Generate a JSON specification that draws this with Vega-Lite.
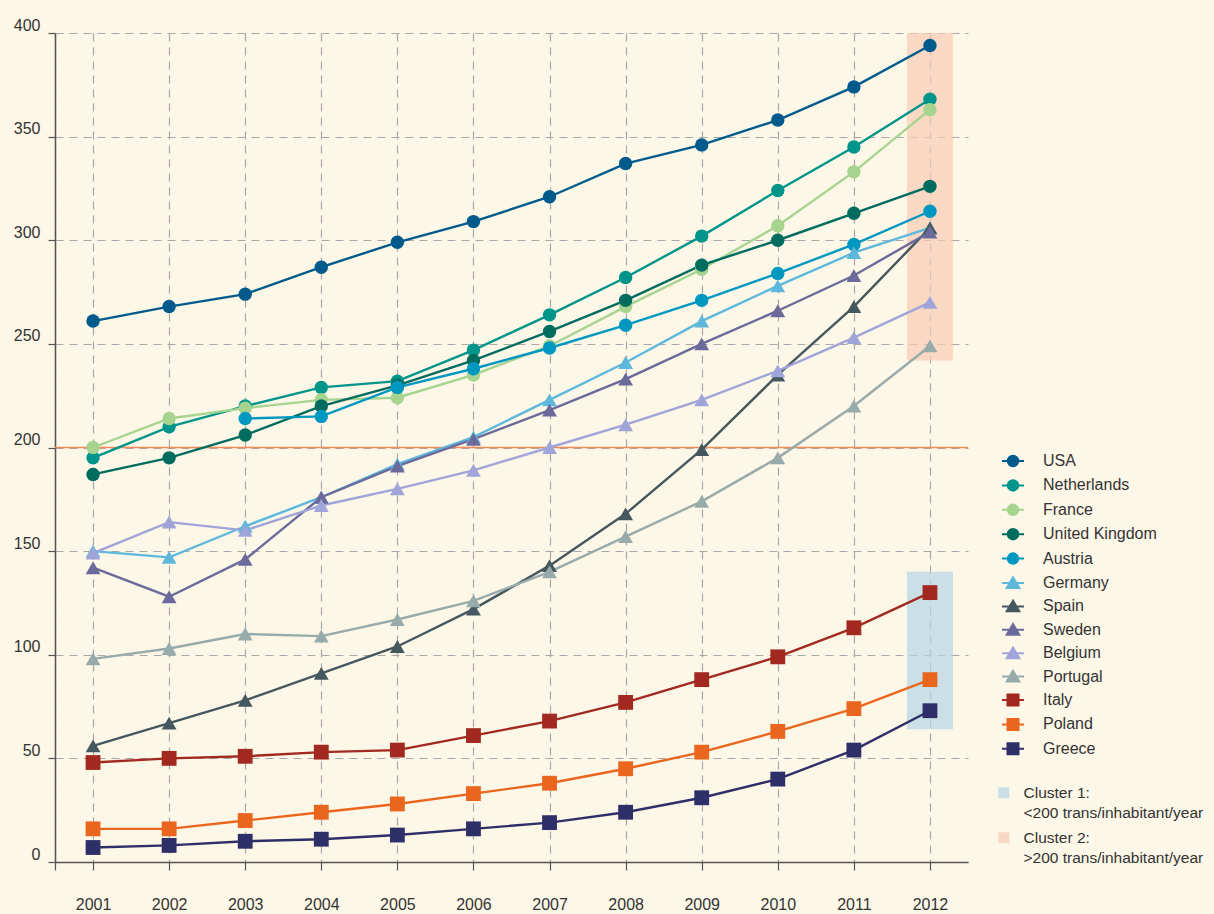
{
  "$schema": "https://vega.github.io/schema/vega-lite/v6.json",
  "width": 913,
  "height": 829,
  "autosize": "none",
  "padding": {"left": 55, "top": 33, "right": 246, "bottom": 52},
  "background": "#fdf7e7",
  "config": {
    "view": {"stroke": null},
    "font": "Liberation Sans",
    "axis": {
      "domainColor": "#555555",
      "domainWidth": 1.5,
      "tickColor": "#555555",
      "tickWidth": 1.2,
      "labelColor": "#333333",
      "labelFontSize": 16,
      "labelFont": "Liberation Sans",
      "gridColor": "#a8a8a8",
      "gridDash": [8, 6],
      "gridWidth": 1.2,
      "title": null
    },
    "legend": {"labelFont": "Liberation Sans"}
  },
  "datasets": {
    "trans": [
      {"year": 2001, "USA": 261, "Netherlands": 195, "France": 200, "United Kingdom": 187, "Austria": null, "Germany": 150, "Spain": 56, "Sweden": 142, "Belgium": 149, "Portugal": 98, "Italy": 48, "Poland": 16, "Greece": 7},
      {"year": 2002, "USA": 268, "Netherlands": 210, "France": 214, "United Kingdom": 195, "Austria": null, "Germany": 147, "Spain": 67, "Sweden": 128, "Belgium": 164, "Portugal": 103, "Italy": 50, "Poland": 16, "Greece": 8},
      {"year": 2003, "USA": 274, "Netherlands": 220, "France": 219, "United Kingdom": 206, "Austria": 214, "Germany": 162, "Spain": 78, "Sweden": 146, "Belgium": 160, "Portugal": 110, "Italy": 51, "Poland": 20, "Greece": 10},
      {"year": 2004, "USA": 287, "Netherlands": 229, "France": 223, "United Kingdom": 220, "Austria": 215, "Germany": 176, "Spain": 91, "Sweden": 176, "Belgium": 172, "Portugal": 109, "Italy": 53, "Poland": 24, "Greece": 11},
      {"year": 2005, "USA": 299, "Netherlands": 232, "France": 224, "United Kingdom": 230, "Austria": 229, "Germany": 192, "Spain": 104, "Sweden": 191, "Belgium": 180, "Portugal": 117, "Italy": 54, "Poland": 28, "Greece": 13},
      {"year": 2006, "USA": 309, "Netherlands": 247, "France": 235, "United Kingdom": 242, "Austria": 238, "Germany": 205, "Spain": 122, "Sweden": 204, "Belgium": 189, "Portugal": 126, "Italy": 61, "Poland": 33, "Greece": 16},
      {"year": 2007, "USA": 321, "Netherlands": 264, "France": 249, "United Kingdom": 256, "Austria": 248, "Germany": 223, "Spain": 143, "Sweden": 218, "Belgium": 200, "Portugal": 140, "Italy": 68, "Poland": 38, "Greece": 19},
      {"year": 2008, "USA": 337, "Netherlands": 282, "France": 268, "United Kingdom": 271, "Austria": 259, "Germany": 241, "Spain": 168, "Sweden": 233, "Belgium": 211, "Portugal": 157, "Italy": 77, "Poland": 45, "Greece": 24},
      {"year": 2009, "USA": 346, "Netherlands": 302, "France": 286, "United Kingdom": 288, "Austria": 271, "Germany": 261, "Spain": 199, "Sweden": 250, "Belgium": 223, "Portugal": 174, "Italy": 88, "Poland": 53, "Greece": 31},
      {"year": 2010, "USA": 358, "Netherlands": 324, "France": 307, "United Kingdom": 300, "Austria": 284, "Germany": 278, "Spain": 235, "Sweden": 266, "Belgium": 237, "Portugal": 195, "Italy": 99, "Poland": 63, "Greece": 40},
      {"year": 2011, "USA": 374, "Netherlands": 345, "France": 333, "United Kingdom": 313, "Austria": 298, "Germany": 294, "Spain": 268, "Sweden": 283, "Belgium": 253, "Portugal": 220, "Italy": 113, "Poland": 74, "Greece": 54},
      {"year": 2012, "USA": 394, "Netherlands": 368, "France": 363, "United Kingdom": 326, "Austria": 314, "Germany": 306, "Spain": 306, "Sweden": 304, "Belgium": 270, "Portugal": 249, "Italy": 130, "Poland": 88, "Greece": 73}
    ],
    "clusters": [
      {"cluster": "Cluster 1:", "description": "<200 trans/inhabitant/year", "year": 2012, "low": 64, "high": 140},
      {"cluster": "Cluster 2:", "description": ">200 trans/inhabitant/year", "year": 2012, "low": 242, "high": 400}
    ],
    "threshold": [{"limit": 200}]
  },
  "layer": [
    {
      "data": {"name": "clusters"},
      "mark": {"type": "bar", "width": 46, "orient": "vertical", "opacity": 0.7, "strokeWidth": 0},
      "encoding": {
        "x": {"field": "year", "type": "quantitative"},
        "y": {"field": "low", "type": "quantitative"},
        "y2": {"field": "high"},
        "fill": {
          "field": "cluster",
          "type": "nominal",
          "scale": {"domain": ["Cluster 1:", "Cluster 2:"], "range": ["#b3d5e6", "#f7ccb4"]},
          "legend": {
            "orient": "none",
            "legendX": 941,
            "legendY": 752,
            "title": null,
            "symbolType": "square",
            "symbolSize": 121,
            "symbolStrokeWidth": 0,
            "labelFontSize": 15.5,
            "labelColor": "#333333",
            "labelLimit": 400,
            "labelOffset": 12,
            "labelBaseline": "middle",
            "rowPadding": 28
          }
        },
        "stroke": {
          "field": "description",
          "type": "nominal",
          "scale": {"domain": ["<200 trans/inhabitant/year", ">200 trans/inhabitant/year"], "range": ["#fdf7e7", "#fdf7e7"]},
          "legend": {
            "orient": "none",
            "legendX": 941,
            "legendY": 772,
            "title": null,
            "symbolType": "square",
            "symbolSize": 121,
            "symbolOpacity": 0,
            "symbolStrokeWidth": 0,
            "labelFontSize": 15.5,
            "labelColor": "#333333",
            "labelLimit": 400,
            "labelOffset": 12,
            "labelBaseline": "middle",
            "rowPadding": 28
          }
        }
      }
    },
    {
      "data": {"name": "threshold"},
      "mark": {"type": "rule", "color": "#f08c58", "strokeWidth": 1.3},
      "encoding": {"y": {"field": "limit", "type": "quantitative"}}
    },
    {
      "data": {"name": "trans"},
      "transform": [
        {"fold": ["USA", "Netherlands", "France", "United Kingdom", "Austria", "Germany", "Spain", "Sweden", "Belgium", "Portugal", "Italy", "Poland", "Greece"], "as": ["country", "value"]}
      ],
      "encoding": {
        "x": {
          "field": "year",
          "type": "quantitative",
          "scale": {"domain": [2000.5, 2012.5], "nice": false, "zero": false, "padding": 0},
          "axis": {
            "values": [2000.5, 2001, 2002, 2003, 2004, 2005, 2006, 2007, 2008, 2009, 2010, 2011, 2012],
            "format": "d",
            "labelExpr": "datum.value < 2001 ? '' : datum.label",
            "tickSize": 8,
            "labelPadding": 26,
            "grid": true
          }
        },
        "y": {
          "field": "value",
          "type": "quantitative",
          "scale": {"domain": [0, 400], "nice": false},
          "axis": {
            "values": [0, 50, 100, 150, 200, 250, 300, 350, 400],
            "tickSize": 7,
            "labelPadding": 8,
            "labelOffset": -8,
            "grid": true
          }
        },
        "color": {
          "field": "country",
          "type": "nominal",
          "scale": {
            "domain": ["USA", "Netherlands", "France", "United Kingdom", "Austria", "Germany", "Spain", "Sweden", "Belgium", "Portugal", "Italy", "Poland", "Greece"],
            "range": ["#005b8c", "#00958a", "#a6d48f", "#006c5f", "#0097c0", "#5db8dc", "#46585f", "#6b6a9b", "#a0a4d8", "#98abab", "#a2291f", "#ea661f", "#2e2f68"]
          },
          "legend": {
            "orient": "none",
            "legendX": 950,
            "legendY": 420,
            "title": null,
            "labelFontSize": 16,
            "labelColor": "#333333",
            "labelLimit": 300,
            "labelOffset": 22,
            "symbolSize": 121,
            "symbolStrokeWidth": 2,
            "rowPadding": 4.4,
            "encode": {
              "symbols": {
                "update": {
                  "shape": {"signal": "(datum.value == 'USA' || datum.value == 'Netherlands' || datum.value == 'France' || datum.value == 'United Kingdom' || datum.value == 'Austria') ? 'M-2,0H2M0.95,0A0.95,0.95,0,1,1,-0.95,0A0.95,0.95,0,1,1,0.95,0Z' : ((datum.value == 'Italy' || datum.value == 'Poland' || datum.value == 'Greece') ? 'M-2,0H2M-1,-1H1V1H-1Z' : 'M-2,0H2M0,-1.05L1.15,0.9L-1.15,0.9Z')"},
                  "fill": {"scale": "color", "field": "value"},
                  "stroke": {"scale": "color", "field": "value"},
                  "strokeWidth": {"value": 2},
                  "opacity": {"value": 1},
                  "fillOpacity": {"value": 1},
                  "strokeOpacity": {"value": 1}
                }
              }
            }
          }
        }
      },
      "layer": [
        {"mark": {"type": "line", "strokeWidth": 2.4}},
        {
          "transform": [{"filter": {"field": "country", "oneOf": ["USA", "Netherlands", "France", "United Kingdom", "Austria"]}}],
          "mark": {"type": "point", "shape": "circle", "filled": true, "size": 180, "opacity": 1}
        },
        {
          "transform": [{"filter": {"field": "country", "oneOf": ["Germany", "Spain", "Sweden", "Belgium", "Portugal"]}}],
          "mark": {"type": "point", "shape": "triangle-up", "filled": true, "size": 220, "opacity": 1}
        },
        {
          "transform": [{"filter": {"field": "country", "oneOf": ["Italy", "Poland", "Greece"]}}],
          "mark": {"type": "point", "shape": "square", "filled": true, "size": 220, "opacity": 1}
        }
      ]
    }
  ]
}
